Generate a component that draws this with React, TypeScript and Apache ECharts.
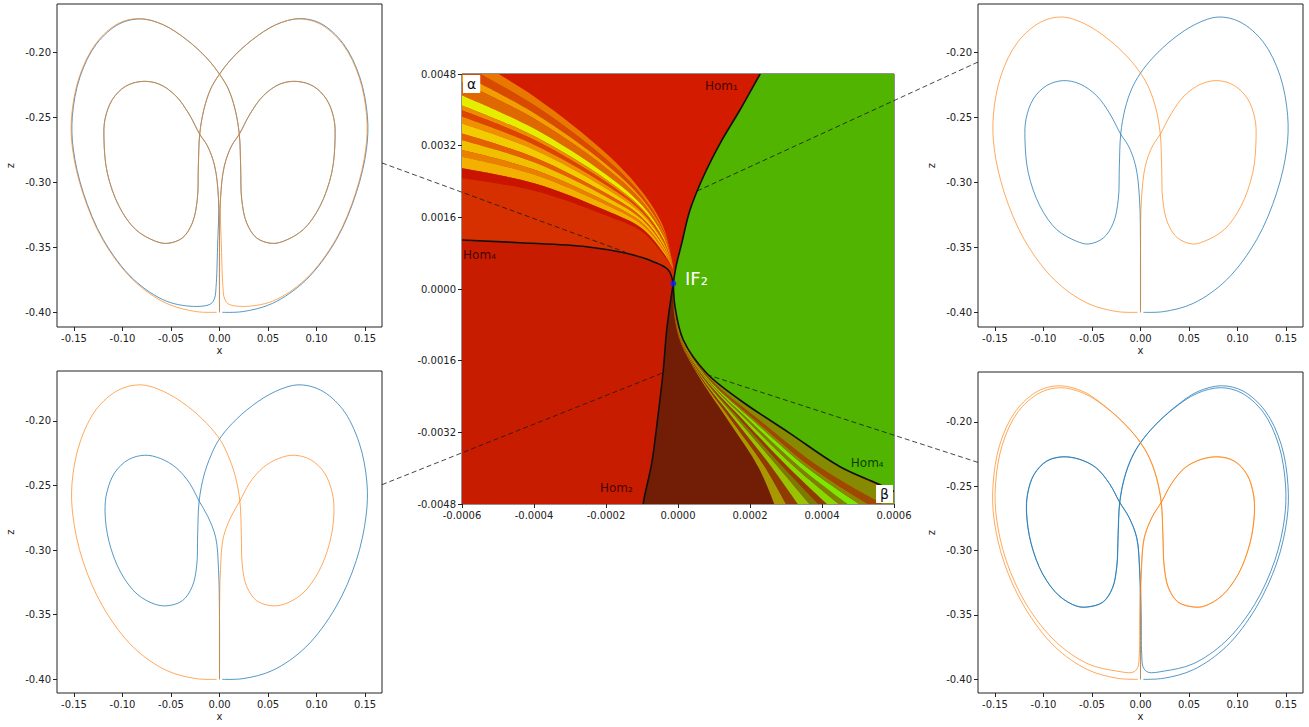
import { useEffect, useRef } from 'react';
import * as echarts from 'echarts';

// ================= Phase portraits: (x, z) =================
const phaseXTicks = [-0.15, -0.1, -0.05, 0, 0.05, 0.1, 0.15];
const phaseZTicks = [-0.4, -0.35, -0.3, -0.25, -0.2];
const phaseXRange = [-0.1675, 0.1675];
const topZRange = [-0.4113, -0.163];
const bottomZRange = [-0.4106, -0.1613];

const tlBlue = [
  [0, -0.4], [0, -0.345], [0.001, -0.313], [0.005, -0.2875], [0.0125, -0.272], [0.0204, -0.2631], [0.0314, -0.2476], [0.0452, -0.2335], [0.0624, -0.2245], [0.0796, -0.2225], [0.0967, -0.2262], [0.1105, -0.2365], [0.118, -0.2515], [0.1191, -0.2669], [0.1157, -0.2927], [0.1036, -0.3184], [0.0864, -0.3364], [0.0658, -0.3454], [0.0538, -0.347], [0.0383, -0.3429], [0.028, -0.3313], [0.0229, -0.3133], [0.0218, -0.2875], [0.0204, -0.2631], [0.016, -0.2438], [0.0091, -0.2283], [0.0005, -0.2175], [-0.0132, -0.2045], [-0.0338, -0.1905], [-0.0579, -0.179], [-0.0802, -0.1745], [-0.1026, -0.178], [-0.1266, -0.1935], [-0.1438, -0.219], [-0.1517, -0.2495], [-0.1507, -0.2746], [-0.1404, -0.3081], [-0.1198, -0.3441], [-0.0888, -0.3745], [-0.0545, -0.3915], [-0.0235, -0.3955], [-0.009, -0.3935], [-0.005, -0.389], [-0.0035, -0.38], [-0.002, -0.35],
  [-0.001, -0.313], [-0.005, -0.2875], [-0.0125, -0.272], [-0.0204, -0.2631], [-0.0314, -0.2476], [-0.0452, -0.2335], [-0.0624, -0.2245], [-0.0796, -0.2225], [-0.0967, -0.2262], [-0.1105, -0.2365], [-0.118, -0.2515], [-0.1191, -0.2669], [-0.1157, -0.2927], [-0.1036, -0.3184], [-0.0864, -0.3364], [-0.0658, -0.3454], [-0.0538, -0.347], [-0.0383, -0.3429], [-0.028, -0.3313], [-0.0229, -0.3133], [-0.0218, -0.2875], [-0.0204, -0.2631], [-0.016, -0.2438], [-0.0091, -0.2283], [-0.0005, -0.2175], [0.0132, -0.2045], [0.0338, -0.1905], [0.0579, -0.179], [0.0825, -0.1742], [0.1045, -0.178], [0.1276, -0.1935], [0.1445, -0.219], [0.1525, -0.2495], [0.1515, -0.2746], [0.141, -0.3081], [0.1205, -0.3441], [0.0893, -0.375], [0.0548, -0.3931], [0.0235, -0.3995], [0.003, -0.4],
];
const tlOrange = [
  [0, -0.4], [0, -0.345], [-0.001, -0.313], [-0.005, -0.2875], [-0.0125, -0.272], [-0.0204, -0.2631], [-0.0314, -0.2476], [-0.0452, -0.2335], [-0.0624, -0.2245], [-0.0796, -0.2225], [-0.0967, -0.2262], [-0.1105, -0.2365], [-0.118, -0.2515], [-0.1191, -0.2669], [-0.1157, -0.2927], [-0.1036, -0.3184], [-0.0864, -0.3364], [-0.0658, -0.3454], [-0.0538, -0.347], [-0.0383, -0.3429], [-0.028, -0.3313], [-0.0229, -0.3133], [-0.0218, -0.2875], [-0.0204, -0.2631], [-0.016, -0.2438], [-0.0091, -0.2283], [-0.0005, -0.2175], [0.0132, -0.2045], [0.0338, -0.1905], [0.0579, -0.179], [0.0802, -0.1745], [0.1026, -0.178], [0.1266, -0.1935], [0.1438, -0.219], [0.1517, -0.2495], [0.1507, -0.2746], [0.1404, -0.3081], [0.1198, -0.3441], [0.0888, -0.3745], [0.0545, -0.3915], [0.0235, -0.3955], [0.009, -0.3935], [0.005, -0.389], [0.0035, -0.38], [0.002, -0.35],
  [0.001, -0.313], [0.005, -0.2875], [0.0125, -0.272], [0.0204, -0.2631], [0.0314, -0.2476], [0.0452, -0.2335], [0.0624, -0.2245], [0.0796, -0.2225], [0.0967, -0.2262], [0.1105, -0.2365], [0.118, -0.2515], [0.1191, -0.2669], [0.1157, -0.2927], [0.1036, -0.3184], [0.0864, -0.3364], [0.0658, -0.3454], [0.0538, -0.347], [0.0383, -0.3429], [0.028, -0.3313], [0.0229, -0.3133], [0.0218, -0.2875], [0.0204, -0.2631], [0.016, -0.2438], [0.0091, -0.2283], [0.0005, -0.2175], [-0.0132, -0.2045], [-0.0338, -0.1905], [-0.0579, -0.179], [-0.0825, -0.1742], [-0.1045, -0.178], [-0.1276, -0.1935], [-0.1445, -0.219], [-0.1525, -0.2495], [-0.1515, -0.2746], [-0.141, -0.3081], [-0.1205, -0.3441], [-0.0893, -0.375], [-0.0548, -0.3931], [-0.0235, -0.3995], [-0.003, -0.4],
];
const trBlue = [
  [0, -0.4], [0, -0.352], [-0.001, -0.313], [-0.005, -0.2875], [-0.0125, -0.272], [-0.0204, -0.2631], [-0.0314, -0.2476], [-0.0452, -0.2335], [-0.0624, -0.2245], [-0.0796, -0.2219], [-0.0967, -0.2257], [-0.1105, -0.236], [-0.118, -0.2515], [-0.1191, -0.2669], [-0.1157, -0.2927], [-0.1036, -0.3184], [-0.0864, -0.3364], [-0.0658, -0.3454], [-0.0538, -0.3475], [-0.0383, -0.3429], [-0.028, -0.3313], [-0.0229, -0.3133], [-0.0218, -0.2875], [-0.0204, -0.2631], [-0.016, -0.2438], [-0.0091, -0.2283], [-0.0005, -0.2167], [0.0132, -0.2039], [0.0338, -0.1897], [0.0579, -0.1781], [0.0802, -0.173], [0.1026, -0.1768], [0.1266, -0.1923], [0.1438, -0.218], [0.1517, -0.2489], [0.1507, -0.2746], [0.1404, -0.3081], [0.1198, -0.3441], [0.0888, -0.375], [0.0545, -0.3931], [0.0235, -0.3995], [0.003, -0.4],
];
const trOrange = [
  [0, -0.4], [0, -0.352], [0.001, -0.313], [0.005, -0.2875], [0.0125, -0.272], [0.0204, -0.2631], [0.0314, -0.2476], [0.0452, -0.2335], [0.0624, -0.2245], [0.0796, -0.2219], [0.0967, -0.2257], [0.1105, -0.236], [0.118, -0.2515], [0.1191, -0.2669], [0.1157, -0.2927], [0.1036, -0.3184], [0.0864, -0.3364], [0.0658, -0.3454], [0.0538, -0.3475], [0.0383, -0.3429], [0.028, -0.3313], [0.0229, -0.3133], [0.0218, -0.2875], [0.0204, -0.2631], [0.016, -0.2438], [0.0091, -0.2283], [0.0005, -0.2167], [-0.0132, -0.2039], [-0.0338, -0.1897], [-0.0579, -0.1781], [-0.0802, -0.173], [-0.1026, -0.1768], [-0.1266, -0.1923], [-0.1438, -0.218], [-0.1517, -0.2489], [-0.1507, -0.2746], [-0.1404, -0.3081], [-0.1198, -0.3441], [-0.0888, -0.375], [-0.0545, -0.3931], [-0.0235, -0.3995], [-0.003, -0.4],
];
const blBlue = [
  [0, -0.4], [0, -0.352], [-0.001, -0.315], [-0.004, -0.29], [-0.012, -0.274], [-0.021, -0.262], [-0.031, -0.248], [-0.045, -0.236], [-0.061, -0.229], [-0.077, -0.2265], [-0.094, -0.23], [-0.108, -0.24], [-0.116, -0.255], [-0.118, -0.27], [-0.114, -0.293], [-0.102, -0.317], [-0.085, -0.334], [-0.066, -0.342], [-0.053, -0.343], [-0.038, -0.339], [-0.028, -0.328], [-0.0235, -0.312], [-0.0225, -0.288], [-0.021, -0.262], [-0.016, -0.242], [-0.009, -0.227], [-0.001, -0.215], [0.013, -0.202], [0.034, -0.188], [0.058, -0.177], [0.081, -0.172], [0.104, -0.176], [0.127, -0.191], [0.144, -0.217], [0.152, -0.248], [0.151, -0.274], [0.141, -0.308], [0.12, -0.344], [0.089, -0.375], [0.055, -0.393], [0.024, -0.3995], [0.003, -0.4],
];
const blOrange = [
  [0, -0.4], [0, -0.352], [0.001, -0.315], [0.004, -0.29], [0.012, -0.274], [0.021, -0.262], [0.031, -0.248], [0.045, -0.236], [0.061, -0.229], [0.077, -0.2265], [0.094, -0.23], [0.108, -0.24], [0.116, -0.255], [0.118, -0.27], [0.114, -0.293], [0.102, -0.317], [0.085, -0.334], [0.066, -0.342], [0.053, -0.343], [0.038, -0.339], [0.028, -0.328], [0.0235, -0.312], [0.0225, -0.288], [0.021, -0.262], [0.016, -0.242], [0.009, -0.227], [0.001, -0.215], [-0.013, -0.202], [-0.034, -0.188], [-0.058, -0.177], [-0.081, -0.172], [-0.104, -0.176], [-0.127, -0.191], [-0.144, -0.217], [-0.152, -0.248], [-0.151, -0.274], [-0.141, -0.308], [-0.12, -0.344], [-0.089, -0.375], [-0.055, -0.393], [-0.024, -0.3995], [-0.003, -0.4],
];
const brBlue = [
  [0, -0.4], [0, -0.352], [-0.001, -0.315], [-0.004, -0.29], [-0.012, -0.274], [-0.0215, -0.2625], [-0.032, -0.248], [-0.046, -0.2355], [-0.063, -0.229], [-0.0808, -0.2271], [-0.097, -0.2305], [-0.11, -0.241], [-0.1165, -0.256], [-0.1175, -0.271], [-0.113, -0.294], [-0.101, -0.318], [-0.084, -0.335], [-0.066, -0.343], [-0.055, -0.3437], [-0.039, -0.34], [-0.029, -0.329], [-0.0245, -0.312], [-0.0232, -0.288], [-0.0215, -0.2625], [-0.0165, -0.243], [-0.009, -0.2275], [0, -0.216], [0.014, -0.2035], [0.0345, -0.1895], [0.058, -0.178], [0.0825, -0.1735], [0.104, -0.1775], [0.1265, -0.1925], [0.1425, -0.218], [0.1495, -0.249], [0.1485, -0.2745], [0.1385, -0.3075], [0.1175, -0.342], [0.087, -0.371], [0.054, -0.388], [0.025, -0.3935], [0.008, -0.3945], [0.003, -0.391], [0.0012, -0.38], [0.0008, -0.35],
  [-0.0008, -0.315], [-0.0038, -0.29], [-0.0118, -0.2742], [-0.0213, -0.2627], [-0.0318, -0.2482], [-0.0458, -0.2357], [-0.0628, -0.2292], [-0.0806, -0.2273], [-0.0968, -0.2307], [-0.1098, -0.2412], [-0.1163, -0.2562], [-0.1173, -0.2712], [-0.1128, -0.2942], [-0.1008, -0.3182], [-0.0838, -0.3352], [-0.0658, -0.3432], [-0.0548, -0.3439], [-0.0388, -0.3402], [-0.0288, -0.3292], [-0.0243, -0.3122], [-0.023, -0.2882], [-0.0213, -0.2627], [-0.0163, -0.2432], [-0.0088, -0.2277], [0.0002, -0.2162], [0.0145, -0.203], [0.0355, -0.1885], [0.059, -0.1765], [0.0835, -0.172], [0.1055, -0.176], [0.1285, -0.1915], [0.145, -0.2175], [0.152, -0.249], [0.151, -0.2755], [0.1405, -0.3095], [0.119, -0.3445], [0.0885, -0.3745], [0.0545, -0.3925], [0.0235, -0.3992], [0.003, -0.4],
];
const brOrange = [
  [0, -0.4], [0, -0.352], [0.001, -0.315], [0.004, -0.29], [0.012, -0.274], [0.0215, -0.2625], [0.032, -0.248], [0.046, -0.2355], [0.063, -0.229], [0.0808, -0.2271], [0.097, -0.2305], [0.11, -0.241], [0.1165, -0.256], [0.1175, -0.271], [0.113, -0.294], [0.101, -0.318], [0.084, -0.335], [0.066, -0.343], [0.055, -0.3437], [0.039, -0.34], [0.029, -0.329], [0.0245, -0.312], [0.0232, -0.288], [0.0215, -0.2625], [0.0165, -0.243], [0.009, -0.2275], [0, -0.216], [-0.014, -0.2035], [-0.0345, -0.1895], [-0.058, -0.178], [-0.0825, -0.1735], [-0.104, -0.1775], [-0.1265, -0.1925], [-0.1425, -0.218], [-0.1495, -0.249], [-0.1485, -0.2745], [-0.1385, -0.3075], [-0.1175, -0.342], [-0.087, -0.371], [-0.054, -0.388], [-0.025, -0.3935], [-0.008, -0.3945], [-0.003, -0.391], [-0.0012, -0.38], [-0.0008, -0.35],
  [0.0008, -0.315], [0.0038, -0.29], [0.0118, -0.2742], [0.0213, -0.2627], [0.0318, -0.2482], [0.0458, -0.2357], [0.0628, -0.2292], [0.0806, -0.2273], [0.0968, -0.2307], [0.1098, -0.2412], [0.1163, -0.2562], [0.1173, -0.2712], [0.1128, -0.2942], [0.1008, -0.3182], [0.0838, -0.3352], [0.0658, -0.3432], [0.0548, -0.3439], [0.0388, -0.3402], [0.0288, -0.3292], [0.0243, -0.3122], [0.023, -0.2882], [0.0213, -0.2627], [0.0163, -0.2432], [0.0088, -0.2277], [-0.0002, -0.2162], [-0.0145, -0.203], [-0.0355, -0.1885], [-0.059, -0.1765], [-0.0835, -0.172], [-0.1055, -0.176], [-0.1285, -0.1915], [-0.145, -0.2175], [-0.152, -0.249], [-0.151, -0.2755], [-0.1405, -0.3095], [-0.119, -0.3445], [-0.0885, -0.3745], [-0.0545, -0.3925], [-0.0235, -0.3992], [-0.003, -0.4],
];

// ================= Parameter plane: (beta, alpha) =================
const betaTicks = [-0.0006, -0.0004, -0.0002, 0, 0.0002, 0.0004, 0.0006];
const alphaTicks = [-0.0048, -0.0032, -0.0016, 0, 0.0016, 0.0032, 0.0048];

const hom1 = [[0.000256, 0.0052], [0.000228, 0.0048], [0.000172, 0.003996], [0.000117, 0.003253], [0.0000703, 0.002507], [0.0000333, 0.001764], [0.0000103, 0.00102], [-0.0000056, 0.000498], [-0.000013, 0.00012]];
const hom2 = [[-0.000013, 0.00012], [-0.0000175, -0.000096], [-0.0000314, -0.000915], [-0.0000408, -0.001808], [-0.0000547, -0.002775], [-0.0000731, -0.003892], [-0.0000964, -0.004785], [-0.0001, -0.0052]];
const hom4Left = [[-0.0007, 0.00112], [-0.0006, 0.001094], [-0.000439, 0.001034], [-0.000254, 0.000944], [-0.000143, 0.000797], [-0.0000686, 0.00061], [-0.0000269, 0.000424], [-0.000013, 0.00012]];
const hom4Right = [[-0.000013, 0.00012], [-0.0000083, -0.000395], [0.0000147, -0.001139], [0.0000797, -0.001882], [0.000172, -0.002478], [0.000311, -0.003222], [0.00045, -0.003967], [0.000552, -0.004338], [0.00065, -0.0047]];
const if2Point = [-0.000013, 0.00012];

// upper fan: boundary curves alpha(beta), outer to inner
const upperFanBeta = [-0.000605, -0.0004, -0.0002, -0.0001, -0.00004, -0.000012];
const upperFanAlpha = [
  [0.0053, 0.0043, 0.00303, 0.00217, 0.00137, 0.00042],
  [0.00504, 0.004106, 0.002902, 0.002088, 0.001313, 0.00042],
  [0.004806, 0.003931, 0.002787, 0.002014, 0.001262, 0.00042],
  [0.004637, 0.003805, 0.002704, 0.001961, 0.001225, 0.00042],
  [0.004338, 0.003582, 0.002556, 0.001867, 0.001159, 0.00042],
  [0.004114, 0.003415, 0.002446, 0.001796, 0.00111, 0.00042],
  [0.004003, 0.003332, 0.002391, 0.001761, 0.001086, 0.00042],
  [0.003857, 0.003223, 0.00232, 0.001715, 0.001054, 0.00042],
  [0.003706, 0.003111, 0.002245, 0.001667, 0.001021, 0.00042],
  [0.003483, 0.002944, 0.002135, 0.001597, 0.000972, 0.00042],
  [0.003332, 0.002831, 0.002061, 0.001549, 0.000939, 0.00042],
  [0.003111, 0.002667, 0.001952, 0.00148, 0.00089, 0.00042],
  [0.002963, 0.002556, 0.001879, 0.001433, 0.000858, 0.00042],
  [0.0027, 0.00236, 0.00175, 0.00135, 0.0008, 0.00042],
  [0.002479, 0.002195, 0.001641, 0.00128, 0.000752, 0.00042],
];
const upperFanColors = ['#e87800', '#d84a00', '#f0a000', '#e06800', '#e6ee00', '#ec8c00', '#dc4400', '#ee9000', '#f2cc00', '#e46000', '#f0c000', '#ea8000', '#f2b000', '#c81400'];

// lower fan: boundary curves beta(alpha), inner to outer
const lowerFanAlpha = [0.00012, -0.0006, -0.0012, -0.002, -0.003, -0.004, -0.0052];
const lowerFanBeta = [
  [-0.000013, -0.00001, 0.000008, 0.0000617, 0.000145, 0.000225, 0.000286],
  [-0.000013, -0.0000095, 0.0000091, 0.0000646, 0.000155, 0.0002437, 0.0003263],
  [-0.000013, -0.000009, 0.0000102, 0.0000675, 0.000165, 0.0002624, 0.0003666],
  [-0.000013, -0.0000086, 0.0000114, 0.0000704, 0.000175, 0.0002812, 0.000407],
  [-0.000013, -0.0000082, 0.0000122, 0.0000726, 0.0001825, 0.0002952, 0.0004372],
  [-0.000013, -0.0000078, 0.000013, 0.0000748, 0.00019, 0.0003092, 0.0004674],
  [-0.000013, -0.0000074, 0.0000142, 0.0000777, 0.0002, 0.000328, 0.0005078],
  [-0.000013, -0.000007, 0.000015, 0.0000799, 0.0002075, 0.000342, 0.000538],
  [-0.000013, -0.0000065, 0.0000161, 0.0000828, 0.0002175, 0.0003607, 0.0005783],
  [-0.000013, -0.0000062, 0.000017, 0.000085, 0.000225, 0.0003748, 0.0006086],
  [-0.000013, -0.0000056, 0.0000184, 0.0000886, 0.0002375, 0.0003982, 0.000659],
  [-0.000013, -0.000004, 0.000022, 0.000098, 0.00027, 0.000459, 0.00079],
];
const lowerFanColors = ['#a89800', '#8e3a00', '#96c400', '#7c7a00', '#903c00', '#88d800', '#7e8000', '#7ae800', '#8a8600', '#9e4800', '#868a00'];

const regionColors = { below: '#c81c00', middle: '#d63000', above: '#d31b00', green: '#50b400', brown: '#721e06' };

// connectors: [panel grid, x, z] -> [beta, alpha]
const connectorSources = [[0, 0.1675, -0.2852], [1, -0.1675, -0.2076], [2, 0.1675, -0.2493], [3, -0.1675, -0.2315]];
const connectorTargets = [[-0.000147, 0.000826], [0.0000472, 0.002166], [-0.0000444, -0.00188], [0.0000833, -0.00192]];

const planeLabelTexts = ['Hom₁', 'Hom₄', 'Hom₂', 'Hom₄'];
const planeLabelPos = [[0.000075, 0.00453], [-0.000597, 0.00076], [-0.000217, -0.00444], [0.00048, -0.00388]];
const planeLabelColors = ['rgba(40,0,0,0.85)', 'rgba(40,0,0,0.85)', 'rgba(40,0,0,0.85)', 'rgba(0,40,0,0.85)'];
const if2LabelPos = [0.0000194, 0.000245];

// ================= helpers =================
const FONT = "'DejaVu Sans', sans-serif";
const CENTER = 4;

function fmt(v: number, d: number) {
  let s = v.toFixed(d);
  if (/^-0\.0+$/.test(s)) s = s.slice(1);
  return s;
}

// centripetal Catmull-Rom through pixel points -> cubic Bezier segments
function catmull(p: number[][]) {
  let d = '';
  const dist = (a: number[], b: number[]) => Math.sqrt(Math.hypot(b[0] - a[0], b[1] - a[1]));
  for (let i = 0; i < p.length - 1; i++) {
    const p0 = p[i - 1] || p[i];
    const p1 = p[i];
    const p2 = p[i + 1];
    const p3 = p[i + 2] || p2;
    const d1 = dist(p0, p1);
    const d2 = dist(p1, p2);
    const d3 = dist(p2, p3);
    let c1 = p1;
    let c2 = p2;
    const N = 3 * d1 * (d1 + d2);
    if (N > 1e-9) {
      const A = 2 * d1 * d1 + 3 * d1 * d2 + d2 * d2;
      c1 = [(d1 * d1 * p2[0] - d2 * d2 * p0[0] + A * p1[0]) / N, (d1 * d1 * p2[1] - d2 * d2 * p0[1] + A * p1[1]) / N];
    }
    const M = 3 * d3 * (d3 + d2);
    if (M > 1e-9) {
      const B = 2 * d3 * d3 + 3 * d3 * d2 + d2 * d2;
      c2 = [(d3 * d3 * p1[0] - d2 * d2 * p3[0] + B * p2[0]) / M, (d3 * d3 * p1[1] - d2 * d2 * p3[1] + B * p2[1]) / M];
    }
    d += `C${c1[0].toFixed(2)} ${c1[1].toFixed(2)} ${c2[0].toFixed(2)} ${c2[1].toFixed(2)} ${p2[0].toFixed(2)} ${p2[1].toFixed(2)}`;
  }
  return d;
}

function buildPath(api: any, parts: number[][][], close: boolean) {
  let d = '';
  parts.forEach((part, k) => {
    const px = part.map((p) => api.coord(p));
    d += (k === 0 ? 'M' : 'L') + px[0][0].toFixed(2) + ' ' + px[0][1].toFixed(2);
    d += catmull(px);
  });
  return close ? d + 'Z' : d;
}

function regionSeries(parts: number[][][], color: string) {
  return {
    type: 'custom', xAxisIndex: CENTER, yAxisIndex: CENTER, clip: true, silent: true,
    data: [[0, 0]],
    renderItem: (_p: any, api: any) => ({
      type: 'path',
      shape: { pathData: buildPath(api, parts, true) },
      style: { fill: color, stroke: 'none' },
    }),
  };
}

function curveSeries(grid: number, pts: number[][], stroke: string, width: number, opacity = 1) {
  return {
    type: 'custom', xAxisIndex: grid, yAxisIndex: grid, clip: true, silent: true,
    data: [[pts[0][0], pts[0][1]]],
    renderItem: (_p: any, api: any) => ({
      type: 'path',
      shape: { pathData: buildPath(api, [pts], false) },
      style: { fill: 'none', stroke, lineWidth: width, opacity },
    }),
  };
}

function rev(a: number[][]) {
  return a.slice().reverse();
}

function buildOption() {
  const grids = [
    { left: 57, top: 4, width: 325, height: 323 },
    { left: 978, top: 4, width: 325, height: 323 },
    { left: 57, top: 371, width: 325, height: 322 },
    { left: 978, top: 372, width: 325, height: 321 },
    { left: 462, top: 74, width: 432, height: 430 },
  ].map((g) => ({ ...g, show: true, borderColor: '#222', borderWidth: 1, backgroundColor: 'transparent', containLabel: false, outerBoundsMode: 'none' }));

  const labelStyle = { fontSize: 10, color: '#222', fontFamily: FONT };
  const tickStyle = { show: true, length: 4, lineStyle: { color: '#222', width: 1 } };

  const xAxes: any[] = [];
  const yAxes: any[] = [];
  const zRanges = [topZRange, topZRange, bottomZRange, bottomZRange];
  for (let i = 0; i < 4; i++) {
    xAxes.push({
      type: 'value', gridIndex: i, min: phaseXRange[0], max: phaseXRange[1],
      name: 'x', nameLocation: 'middle', nameGap: 18, nameTextStyle: labelStyle,
      axisLine: { show: false, onZero: false },
      axisTick: { ...tickStyle, customValues: phaseXTicks },
      axisLabel: { ...labelStyle, margin: 6, customValues: phaseXTicks, formatter: (v: number) => fmt(v, 2) },
      splitLine: { show: false },
    });
    yAxes.push({
      type: 'value', gridIndex: i, min: zRanges[i][0], max: zRanges[i][1],
      name: 'z', nameLocation: 'middle', nameGap: 42, nameRotate: 90, nameTextStyle: labelStyle,
      axisLine: { show: false, onZero: false },
      axisTick: { ...tickStyle, customValues: phaseZTicks },
      axisLabel: { ...labelStyle, margin: 6, customValues: phaseZTicks, formatter: (v: number) => fmt(v, 2) },
      splitLine: { show: false },
    });
  }
  xAxes.push({
    type: 'value', gridIndex: CENTER, min: -0.0006, max: 0.0006,
    axisLine: { show: false, onZero: false },
    axisTick: { ...tickStyle, customValues: betaTicks },
    axisLabel: { ...labelStyle, margin: 6, customValues: betaTicks, formatter: (v: number) => fmt(v, 4) },
    splitLine: { show: false },
  });
  yAxes.push({
    type: 'value', gridIndex: CENTER, min: -0.0048, max: 0.0048,
    axisLine: { show: false, onZero: false },
    axisTick: { ...tickStyle, customValues: alphaTicks },
    axisLabel: { ...labelStyle, margin: 6, customValues: alphaTicks, formatter: (v: number) => fmt(v, 4) },
    splitLine: { show: false },
  });

  const series: any[] = [];
  const phaseData = [[tlBlue, tlOrange], [trBlue, trOrange], [blBlue, blOrange], [brBlue, brOrange]];
  phaseData.forEach(([b, o], i) => {
    series.push(curveSeries(i, b, '#1f77b4', 0.85, 0.9));
    series.push(curveSeries(i, o, '#ff7f0e', 0.85, 0.8));
  });

  // --- parameter plane regions ---
  series.push(regionSeries([[[-0.0008, -0.0056]], [[0.0008, -0.0056]], [[0.0008, 0.0056]], [[-0.0008, 0.0056]]], regionColors.below));
  series.push(regionSeries([hom4Left, rev(hom1), [[-0.0008, 0.0056]]], regionColors.middle));
  const fanOuter = upperFanBeta.map((b, k) => [b, upperFanAlpha[0][k]]);
  series.push(regionSeries([fanOuter, rev(hom1.slice(0, -1)), [[-0.0008, 0.0056]]], regionColors.above));
  for (let i = 0; i < upperFanColors.length; i++) {
    const hi = upperFanBeta.map((b, k) => [b, upperFanAlpha[i][k]]);
    const lo = upperFanBeta.map((b, k) => [b, upperFanAlpha[i + 1][k]]);
    series.push(regionSeries([hi, rev(lo)], upperFanColors[i]));
  }
  series.push(regionSeries([hom1, hom4Right.slice(1), [[0.0008, -0.0056]], [[0.0008, 0.0056]], [[0.000256, 0.0056]]], regionColors.green));
  const fanInner = lowerFanAlpha.map((a, k) => [lowerFanBeta[0][k], a]);
  series.push(regionSeries([hom2, rev(fanInner)], regionColors.brown));
  for (let i = 0; i < lowerFanColors.length; i++) {
    const lo = lowerFanAlpha.map((a, k) => [lowerFanBeta[i][k], a]);
    const hi = lowerFanAlpha.map((a, k) => [lowerFanBeta[i + 1][k], a]);
    series.push(regionSeries([lo, rev(hi)], lowerFanColors[i]));
  }
  series.push(curveSeries(CENTER, hom1, '#111', 1.6));
  series.push(curveSeries(CENTER, hom2, '#111', 1.6));
  series.push(curveSeries(CENTER, hom4Left, '#111', 1.6));
  series.push(curveSeries(CENTER, hom4Right, '#111', 1.6));
  series.push({
    type: 'scatter', xAxisIndex: CENTER, yAxisIndex: CENTER, data: [if2Point], symbolSize: 6, silent: true,
    itemStyle: { color: '#1a1aff' }, z: 5,
  });

  return {
    animation: false,
    backgroundColor: '#ffffff',
    textStyle: { fontFamily: FONT },
    grid: grids,
    xAxis: xAxes,
    yAxis: yAxes,
    series,
  };
}

function buildGraphic(chart: any) {
  const els: any[] = [];
  connectorSources.forEach(([gi, x, z], k) => {
    const a = chart.convertToPixel({ gridIndex: gi }, [x, z]);
    const b = chart.convertToPixel({ gridIndex: CENTER }, connectorTargets[k]);
    els.push({
      type: 'line', silent: true, z: 50,
      shape: { x1: a[0], y1: a[1], x2: b[0], y2: b[1] },
      style: { stroke: 'rgba(25,25,25,0.8)', lineWidth: 1, lineDash: [5, 3] },
    });
  });
  planeLabelTexts.forEach((t, k) => {
    const p = chart.convertToPixel({ gridIndex: CENTER }, planeLabelPos[k]);
    els.push({
      type: 'text', silent: true, z: 60, x: p[0], y: p[1],
      style: { text: t, fill: planeLabelColors[k], font: `12px ${FONT}`, align: 'left', verticalAlign: 'middle' },
    });
  });
  const ip = chart.convertToPixel({ gridIndex: CENTER }, if2LabelPos);
  els.push({
    type: 'text', silent: true, z: 60, x: ip[0], y: ip[1],
    style: { text: 'IF₂', fill: '#ffffff', font: `18px ${FONT}`, align: 'left', verticalAlign: 'middle' },
  });
  const tl = chart.convertToPixel({ gridIndex: CENTER }, [-0.0006, 0.0048]);
  els.push({
    type: 'text', silent: true, z: 60, x: tl[0] + 1, y: tl[1] + 1,
    style: { text: 'α', fill: '#111', font: `14px ${FONT}`, align: 'left', verticalAlign: 'top', backgroundColor: '#ffffff', padding: [2, 4, 2, 4] },
  });
  const br = chart.convertToPixel({ gridIndex: CENTER }, [0.0006, -0.0048]);
  els.push({
    type: 'text', silent: true, z: 60, x: br[0] - 1, y: br[1] - 1,
    style: { text: 'β', fill: '#111', font: `14px ${FONT}`, align: 'right', verticalAlign: 'bottom', backgroundColor: '#ffffff', padding: [2, 4, 2, 4] },
  });
  return els;
}

export default function App() {
  const ref = useRef<HTMLDivElement>(null);
  useEffect(() => {
    document.body.style.margin = '0';
    const chart = echarts.init(ref.current as HTMLDivElement, null, { renderer: 'svg' });
    chart.setOption(buildOption() as any);
    chart.setOption({ graphic: buildGraphic(chart) } as any);
    return () => chart.dispose();
  }, []);
  return <div ref={ref} style={{ width: 1309, height: 727 }} />;
}
